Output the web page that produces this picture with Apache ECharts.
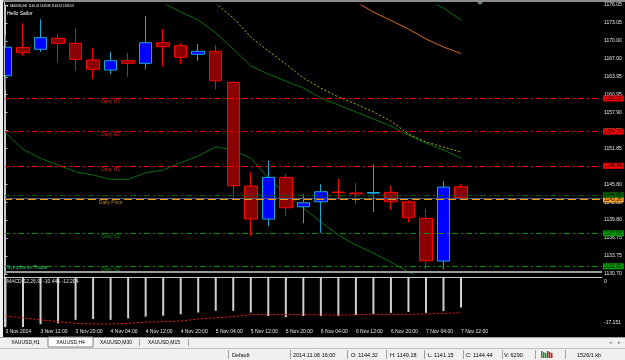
<!DOCTYPE html>
<html><head><meta charset="utf-8">
<script src="https://cdn.jsdelivr.net/npm/echarts@6/dist/echarts.min.js"></script>
<style>html,body{margin:0;padding:0;background:#f0f0f0;}#c{width:625px;height:360px;}</style>
</head><body><div id="c"></div>
<script>
// ---------- DATA ----------
const times = ['2014.11.03 04:00','2014.11.03 08:00','2014.11.03 12:00','2014.11.03 16:00','2014.11.03 20:00',
 '2014.11.04 00:00','2014.11.04 04:00','2014.11.04 08:00','2014.11.04 12:00','2014.11.04 16:00','2014.11.04 20:00',
 '2014.11.05 00:00','2014.11.05 04:00','2014.11.05 08:00','2014.11.05 12:00','2014.11.05 16:00','2014.11.05 20:00',
 '2014.11.06 00:00','2014.11.06 04:00','2014.11.06 08:00','2014.11.06 12:00','2014.11.06 16:00','2014.11.06 20:00',
 '2014.11.07 00:00','2014.11.07 04:00','2014.11.07 08:00','2014.11.07 12:00'];
const opens  = [1164.13,1168.88,1168.58,1170.43,1169.59,1166.78,1165.09,1166.66,1166.22,1169.69,1169.19,1167.74,1168.24,1163.01,1145.53,1139.96,1146.99,1142.04,1142.88,1144.52,1144.35,1144.32,1144.46,1142.88,1140.08,1132.88,1145.41];
const highs  = [1170.99,1172.96,1173.64,1171.11,1172.12,1168.75,1168.17,1168.01,1174.20,1172.00,1169.59,1169.47,1169.30,1163.23,1147.84,1149.79,1147.55,1144.18,1145.86,1146.71,1146.08,1149.18,1145.58,1143.10,1141.65,1146.37,1145.89];
const lows   = [1161.72,1167.50,1168.17,1166.39,1164.97,1163.52,1164.36,1163.96,1165.21,1165.65,1166.05,1166.66,1161.83,1143.45,1137.15,1138.78,1140.47,1139.24,1137.65,1143.28,1142.44,1141.15,1141.48,1139.41,1131.48,1131.48,1143.31];
const closes = [1168.92,1168.01,1170.54,1169.59,1166.89,1165.21,1166.66,1166.22,1169.69,1169.02,1167.23,1168.24,1163.28,1145.58,1139.96,1146.99,1141.87,1142.71,1144.57,1144.42,1144.22,1144.44,1142.88,1140.18,1132.93,1145.35,1143.53];

const maLow    = [1154.52,1151.72,1150.20,1149.07,1147.94,1147.38,1146.66,1146.66,1147.77,1148.23,1149.46,1150.59,1152.15,1151.60,1150.25,1146.88,1144.18,1141.82,1139.46,1137.26,1135.58,1134.23,1132.71,1131.02,1129.51,1127.99,1126.64];
const maMid    = [null,null,null,null,null,null,null,1179.20,1177.74,1176.39,1174.87,1173.52,1171.33,1168.63,1165.76,1164.41,1163.23,1162.05,1160.37,1159.19,1158.01,1156.83,1155.65,1154.13,1152.78,1151.60,1150.25];
const maYellow = [null,null,null,null,null,null,null,null,null,null,1180.90,1178.60,1176.30,1173.86,1170.65,1168.29,1166.10,1163.74,1162.05,1160.54,1159.36,1158.01,1156.49,1154.30,1152.95,1152.10,1151.26];
const maOrange = [null,null,null,null,null,null,null,null,null,null,null,null,null,null,null,null,null,null,1179.30,1177.90,1176.56,1174.87,1173.44,1172.00,1170.32,1168.97,1167.87];
const maTop    = [null,null,null,null,null,null,null,null,null,null,null,null,null,null,null,null,null,null,null,null,null,null,1180.60,1178.92,1177.06,1175.54,1173.52];

const macdHist   = [-16.90,-17.151,-16.20,-15.90,-14.70,-14.40,-14.70,-14.20,-13.60,-13.30,-12.80,-12.20,-11.60,-11.60,-12.20,-13.40,-13.80,-13.40,-13.40,-13.40,-13.00,-12.70,-12.30,-12.00,-12.30,-11.70,-10.446];
const macdSignal = [-13.40,-14.00,-14.70,-15.30,-15.90,-16.10,-16.10,-15.90,-15.50,-15.30,-15.10,-14.40,-14.00,-13.60,-12.90,-12.90,-12.90,-12.90,-13.00,-13.00,-13.00,-12.80,-12.80,-12.80,-12.70,-12.50,-12.204];
const macdRange = [-17.151, 0];

const levelNames  = ['Daily R3','Daily R2','Daily R1','Daily Pivot','Daily S1','Daily S2'];
const levelValues = [1160.29,1154.72,1148.94,1143.26,1137.55,1132.00];
const extraLevel = 1144.05;
const bidPrice = 1143.53;

const priceTicks = [1130.70,1133.75,1136.75,1139.80,1142.80,1145.80,1148.85,1151.85,1154.90,1157.90,1160.95,1163.95,1167.00,1170.00,1173.05,1176.05];
const timeTickIdx = [0,2,4,6,8,10,12,14,16,18,20,22,24,26];
const timeTickLabels = ['3 Nov 2014','3 Nov 12:00','3 Nov 20:00','4 Nov 04:00','4 Nov 12:00','4 Nov 20:00','5 Nov 04:00','5 Nov 12:00','5 Nov 20:00','6 Nov 04:00','6 Nov 12:00','6 Nov 20:00','7 Nov 04:00','7 Nov 12:00'];

// ---------- CHART ----------
const FONT = 'Liberation Sans';
const xMin = -0.0856, xMax = 34.047;
const pMin = 1130.70, pMax = 1176.05;
const idx = times.map((t,i)=>i);
const candleData = idx.map(i=>[i, opens[i], closes[i], lows[i], highs[i]]);
const toPairs = arr => arr.map((v,i)=>[i, v]);

const levelColors = ['#ff0000','#e00000','#ff0000','#ff9900','#0b8a0b','#0b8a0b'];
const levelTextColors = ['#ff2a2a','#ff2a2a','#ff2a2a','#e0a030','#1f9a1f','#1f9a1f'];
const levelTagBg = ['#ff0000','#ff0000','#ff0000','#ffa020','#00a000','#00a000'];
const levelDash = [[6,3,2,3],[6,3,2,3],[6,3,2,3],[8,4],[6,3,2,3],[6,3,2,3]];

const tagLabel = (v,bg)=>({show:true, position:'end', distance:1, formatter:()=>v.toFixed(2),
  backgroundColor:bg, color:'#000', fontSize:5, fontFamily:FONT, padding:[0.5,2,0.5,1], lineHeight:5});

const markData = levelValues.map((v,k)=>({yAxis:v,
  lineStyle:{color:levelColors[k], type:levelDash[k], width:1},
  label: tagLabel(v, levelTagBg[k])}));
markData.push({yAxis:extraLevel, lineStyle:{color:'#0a5c0a', type:[6,3,2,3], width:1}, label: tagLabel(extraLevel,'#006400')});
markData.push({yAxis:bidPrice, lineStyle:{color:'#50627a', type:'solid', width:1}, label:{show:false}});

const chart = echarts.init(document.getElementById('c'), null, {renderer:'canvas'});
const txt = (x,y,s,color,size,align)=>({type:'text', x, y, z:200, silent:true,
  style:{text:s, fill:color, fontSize:size||5, fontFamily:FONT, verticalAlign:'middle', align:align||'left'}});

const option = {
  animation:false,
  backgroundColor:'#000',
  grid:[
    {left:4, width:598, top:5, height:269},
    {left:4, width:598, top:277, height:50}
  ],
  xAxis:[
    {gridIndex:0, type:'value', min:xMin, max:xMax, show:false, splitLine:{show:false}},
    {gridIndex:1, type:'value', min:xMin, max:xMax, splitLine:{show:false},
     axisLine:{show:true, lineStyle:{color:'#c8c8c8', width:1}},
     axisTick:{show:true, customValues:timeTickIdx, length:2, lineStyle:{color:'#c8c8c8'}},
     axisLabel:{customValues:timeTickIdx, align:'left', margin:2, fontSize:5, fontFamily:FONT, color:'#e8e8e8',
       formatter:v=>{const k=timeTickIdx.indexOf(Math.round(v)); return k<0?'':timeTickLabels[k];}}}
  ],
  yAxis:[
    {gridIndex:0, type:'value', position:'right', min:pMin, max:pMax, splitLine:{show:false},
     axisLine:{show:true, lineStyle:{color:'#c8c8c8'}},
     axisTick:{show:true, customValues:priceTicks, length:2, lineStyle:{color:'#c8c8c8'}},
     axisLabel:{customValues:priceTicks, margin:2, fontSize:5, fontFamily:FONT, color:'#e8e8e8', formatter:v=>v.toFixed(2)}},
    {gridIndex:1, type:'value', position:'right', min:macdRange[0], max:macdRange[1], splitLine:{show:false},
     axisLine:{show:true, lineStyle:{color:'#c8c8c8'}},
     axisTick:{show:false},
     axisLabel:{customValues:macdRange, margin:2, fontSize:5, fontFamily:FONT, color:'#e8e8e8',
       formatter:v=> v===0 ? '{t|0}' : '{b|'+v.toFixed(3)+'}',
       rich:{t:{padding:[9,0,0,0], fontSize:5, fontFamily:FONT, color:'#e8e8e8'}, b:{padding:[0,0,9,0], fontSize:5, fontFamily:FONT, color:'#e8e8e8'}}}}
  ],
  series:[
    {type:'line', xAxisIndex:0, yAxisIndex:0, data:toPairs(maLow), symbol:'none', lineStyle:{color:'#0c6e0c', width:1}, z:2},
    {type:'line', xAxisIndex:0, yAxisIndex:0, data:toPairs(maMid), symbol:'none', lineStyle:{color:'#0c6e0c', width:1}, z:2},
    {type:'line', xAxisIndex:0, yAxisIndex:0, data:toPairs(maTop), symbol:'none', lineStyle:{color:'#0c6e0c', width:1}, z:2},
    {type:'line', xAxisIndex:0, yAxisIndex:0, data:toPairs(maOrange), symbol:'none', lineStyle:{color:'#d86a10', width:1}, z:2},
    {type:'line', xAxisIndex:0, yAxisIndex:0, data:toPairs(maYellow), symbol:'none', lineStyle:{color:'#b8b000', width:1, type:[2,2]}, z:2},
    {type:'candlestick', xAxisIndex:0, yAxisIndex:0, data:candleData, barWidth:13, z:3,
     itemStyle:{color:'#0000ff', color0:'#8b0000', borderColor:'#19a8d0', borderColor0:'#ff0000', borderWidth:1},
     markLine:{symbol:['none','none'], silent:true, animation:false, data:markData}},
    {type:'scatter', xAxisIndex:0, yAxisIndex:0, symbolSize:1, itemStyle:{color:'transparent'}, z:4,
     data:levelValues.map((v,k)=>({value:[6, v], name:levelNames[k],
       label:{show:true, position:'bottom', distance:0.5, formatter:levelNames[k], color:levelTextColors[k], fontSize:5, fontFamily:FONT}}))},
    {type:'bar', xAxisIndex:1, yAxisIndex:1, data:toPairs(macdHist), barWidth:2, itemStyle:{color:'#d0d0d0'}, z:2},
    {type:'line', xAxisIndex:1, yAxisIndex:1, data:toPairs(macdSignal), symbol:'none', lineStyle:{color:'#ff1010', width:1, type:[2,2]}, z:3}
  ],
  graphic:[
    // window chrome
    {type:'rect', z:150, silent:true, shape:{x:0,y:0,width:625,height:2}, style:{fill:'#8c8c8c'}},
    {type:'rect', z:150, silent:true, shape:{x:0,y:0,width:3,height:337}, style:{fill:'#f0f0f0'}},
    {type:'line', z:150, silent:true, shape:{x1:4.5,y1:2,x2:4.5,y2:327}, style:{stroke:'#c8c8c8', lineWidth:1}},
    {type:'rect', z:150, silent:true, shape:{x:4,y:271,width:598,height:2}, style:{fill:'#9a9a9a'}},
    // tab strip
    {type:'rect', z:150, silent:true, shape:{x:0,y:337,width:625,height:23}, style:{fill:'#f0f0f0'}},
    {type:'line', z:151, silent:true, shape:{x1:0,y1:337.5,x2:625,y2:337.5}, style:{stroke:'#a0a0a0'}},
    {type:'rect', z:151, silent:true, shape:{x:48,y:337,width:45,height:10}, style:{fill:'#ffffff', stroke:'#808080', lineWidth:1}},
    {type:'line', z:151, silent:true, shape:{x1:139.5,y1:339,x2:139.5,y2:346}, style:{stroke:'#a0a0a0'}},
    {type:'line', z:151, silent:true, shape:{x1:188.5,y1:339,x2:188.5,y2:346}, style:{stroke:'#a0a0a0'}},
    txt(25.5,342.5,'XAUUSD,H1','#000',5,'center'),
    txt(70.5,342.5,'XAUUSD,H4','#000',5,'center'),
    txt(116,342.5,'XAUUSD,M30','#000',5,'center'),
    txt(164,342.5,'XAUUSD,M15','#000',5,'center'),
    txt(609,343,'◂','#808080',5), txt(618,343,'▸','#808080',5),
    // status bar
    {type:'line', z:151, silent:true, shape:{x1:0,y1:348.5,x2:625,y2:348.5}, style:{stroke:'#c0c0c0'}},
    ...[228,290,347,386,424,463,502,535,565].map(x=>({type:'line', z:151, silent:true, shape:{x1:x+0.5,y1:350,x2:x+0.5,y2:359}, style:{stroke:'#a0a0a0'}})),
    txt(232,355,'Default','#000',5.5), txt(293,355,'2014.11.06 16:00','#000',5.5),
    txt(351,355,'O: 1144.32','#000',5.5), txt(390,355,'H: 1149.18','#000',5.5),
    txt(428,355,'L: 1141.15','#000',5.5), txt(466,355,'C: 1144.44','#000',5.5),
    txt(504,355,'V: 6290','#000',5.5), txt(577,355,'1526/1 kb','#000',5.5),
    ...[0,1,2,3,4,5].map(k=>({type:'rect', z:151, silent:true, shape:{x:541+k*2,y:351+(k%3),width:1.5,height:7-(k%3)}, style:{fill:k<3?'#2a8a2a':'#c02020'}})),
    // chart texts
    txt(6,6,'▼ XAUUSD,H4  1145.41 1145.89 1143.31 1143.53','#ffffff',3),
    txt(7,14,'Hello Sailor','#ffffff',5),
    txt(7,267.5,'Symphonie Trader','#34c878',5),
    txt(7,282,'MACD(12,26,9) -10.446 -12.204','#e0e0e0',5),
    {type:'polygon', z:150, silent:true, shape:{points:[[477,2],[483,2],[480,5]]}, style:{fill:'#6a8a8a'}}
  ]
};
chart.setOption(option);
</script></body></html>
